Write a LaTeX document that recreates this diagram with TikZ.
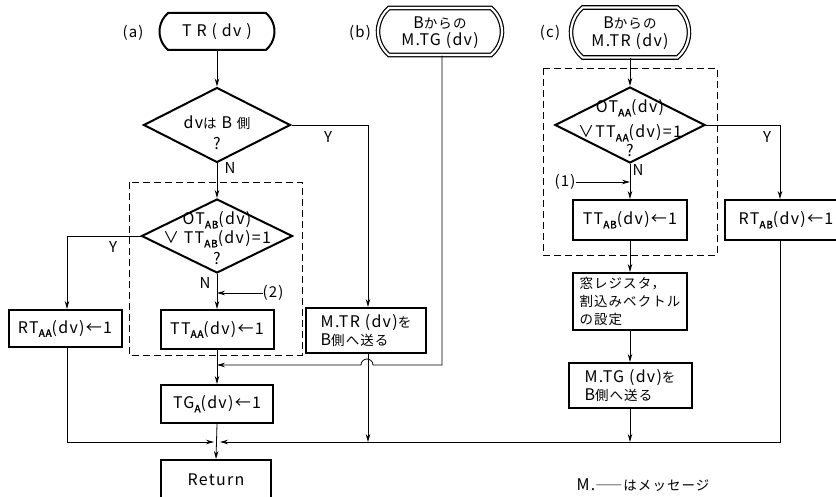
\documentclass[tikz,border=0pt]{standalone}
\usepackage{fontspec}
\setmainfont{Noto Sans CJK JP}[AutoFakeBold=2, LetterSpace=8]
\usetikzlibrary{shapes.geometric,shapes.misc,arrows.meta}
\newcommand\sbx[1]{\raisebox{-0.4ex}{\fontsize{10}{10}\selectfont\bfseries #1}}
\newcommand\jp[1]{{\fontsize{13.5}{18}\selectfont #1}}
\tikzset{
  every node/.style={font=\fontsize{16}{18}\selectfont, inner sep=0pt},
  box/.style={draw, line width=2pt, rectangle},
  term/.style={draw, line width=2pt, rounded rectangle, rounded rectangle arc length=100},
  dterm/.style={draw, line width=1.2pt, double, double distance=2.2pt, rounded rectangle, rounded rectangle arc length=100},
  dia/.style={draw, line width=2pt, diamond},
  dbox/.style={draw, line width=0.9pt, dash pattern=on 7pt off 4pt},
  conn/.style={line width=0.8pt},
  arr/.style={conn, -{Stealth[length=8pt,width=4.5pt]}},
  lbl/.style={font=\fontsize{15}{16}\selectfont},
  dtext/.style={align=center}
}
\begin{document}
\begin{tikzpicture}[x=1pt,y=-1pt]
\useasboundingbox (0,0) rectangle (836,497);
\begin{scope}
\clip (0,0) rectangle (836,497);
% dashed groups
\draw[dbox] (129,182) rectangle (302,355);
\draw[dbox] (543,68) rectangle (717,255);

% column (a)
\node[lbl] (la) at (133,33) {(a)};
\node[term, minimum width=115pt, minimum height=37pt] (tr) at (217,31.5) {T R ( dv )};
\node[dia, minimum width=147pt, minimum height=75pt] (d1) at (217,125) {};
\node (d1a) at (217,123) {dv\jp{は} B \jp{側}};
\node (d1b) at (217,144) {?};
\node[dia, minimum width=151pt, minimum height=74pt] (d2) at (217,236) {};
\node (d2a) at (217,220) {OT\sbx{AB}(dv)};
\node (d2b) at (217,239) {∨ TT\sbx{AB}(dv)=1};
\node (d2c) at (217,259) {?};
\node[box, minimum width=113pt, minimum height=37pt] (rtaa) at (65,328.5) {RT\sbx{AA}(dv)←1};
\node[box, minimum width=113pt, minimum height=39pt] (ttaa) at (217,329.5) {TT\sbx{AA}(dv)←1};
\node[box, minimum width=112pt, minimum height=38pt] (tga) at (217,404) {TG\sbx{A}(dv)←1};
\node[box, minimum width=110pt, minimum height=40pt] (ret) at (216,480) {Return};

% column (b)
\node[lbl] (lb) at (360,33) {(b)};
\node[dterm, minimum width=124pt, minimum height=47pt] (mtgt) at (440,31.5) {};
\node (mtgta) at (440,23) {B\jp{からの}};
\node (mtgtb) at (440,41) {M.TG (dv)};
\node[box, minimum width=120pt, minimum height=45pt, align=left] (mtr) at (366,330.5) {M.TR (dv)\jp{を}\\B\jp{側へ送る}};

% column (c)
\node[lbl] (lc) at (550,33) {(c)};
\node[dterm, minimum width=118pt, minimum height=50pt] (mtrt) at (630,32.5) {};
\node (mtrta) at (630,23.5) {B\jp{からの}};
\node (mtrtb) at (630,42) {M.TR (dv)};
\node[dia, minimum width=150pt, minimum height=76pt] (d3) at (630,125) {};
\node (d3a) at (630,108) {OT\sbx{AA}(dv)};
\node (d3b) at (630,133) {∨TT\sbx{AA}(dv)=1};
\node (d3c) at (630,151) {?};
\node[box, minimum width=114pt, minimum height=40pt] (ttab) at (630,220) {TT\sbx{AB}(dv)←1};
\node[box, minimum width=122pt, minimum height=40pt] (rtab) at (786,220) {RT\sbx{AB}(dv)←1};
\node[box, minimum width=114pt, minimum height=57pt, align=left, font=\fontsize{13.5}{18}\selectfont] (mado) at (630,301.5) {窓レジスタ，\\割込みベクトル\\の設定};
\node[box, minimum width=123pt, minimum height=45pt, align=left] (mtg) at (630,385.5) {M.TG (dv)\jp{を}\\B\jp{側へ送る}};

\node (foot) at (643,485) {M.\jp{――はメッセージ}};

% labels
\node[lbl] (y1) at (328,137) {Y};
\node[lbl] (n1) at (230,168) {N};
\node[lbl] (y2) at (113,247) {Y};
\node[lbl] (n2) at (205,283) {N};
\node[lbl] (y3) at (767,137) {Y};
\node[lbl] (n3) at (638,170) {N};
\node[lbl] (l1) at (565,182) {(1)};
\node[lbl] (l2) at (273,293) {(2)};

% coordinates
\coordinate (c1s) at (576,182);
\coordinate (c2s) at (263,293);
\coordinate (xb) at (368,0);
\coordinate (xy) at (780,0);
\coordinate (xl) at (67,0);
\coordinate (jb) at (442,365);
\coordinate (hopR) at (373,365);
\coordinate (ja) at (217,365);
\coordinate (mL) at (214,442);
\coordinate (mR) at (220,442);
\coordinate (yline) at (0,442);

% connectors (a)
\draw[arr] (tr.south) -- (d1.north);
\draw[arr] (d1.east) -- (d1.east -| xb) -- (xb |- mtr.north);
\draw[arr] (d1.south) -- (d2.north);
\draw[arr] (d2.west) -- (d2.west -| xl) -- (xl |- rtaa.north);
\draw[arr] (d2.south) -- (ttaa.north);
\draw[arr] (c2s) -- (c2s -| ttaa.north);
\draw[arr] (ttaa.south) -- (tga.north);
\draw[arr] (tga.south) -- (ret.north);
\draw[arr] (xl |- rtaa.south) -- (xl |- yline) -- (mL);
% connectors (b)
\draw[arr] (mtgt.south -| jb) -- (jb) -- (hopR) arc[start angle=0, end angle=-180, radius=6] -- (ja);
\draw[arr] (xb |- mtr.south) -- (xb |- yline);
% connectors (c)
\draw[arr] (mtrt.south) -- (d3.north);
\draw[arr] (d3.east) -- (d3.east -| xy) -- (xy |- rtab.north);
\draw[arr] (d3.south) -- (ttab.north);
\draw[arr] (c1s) -- (c1s -| ttab.north);
\draw[arr] (ttab.south) -- (mado.north);
\draw[arr] (mado.south) -- (mtg.north);
\draw[arr] (mtg.south) -- (mtg.south |- yline);
\draw[arr] (xy |- rtab.south) -- (xy |- yline) -- (mR);
\end{scope}
\end{tikzpicture}
\end{document}
